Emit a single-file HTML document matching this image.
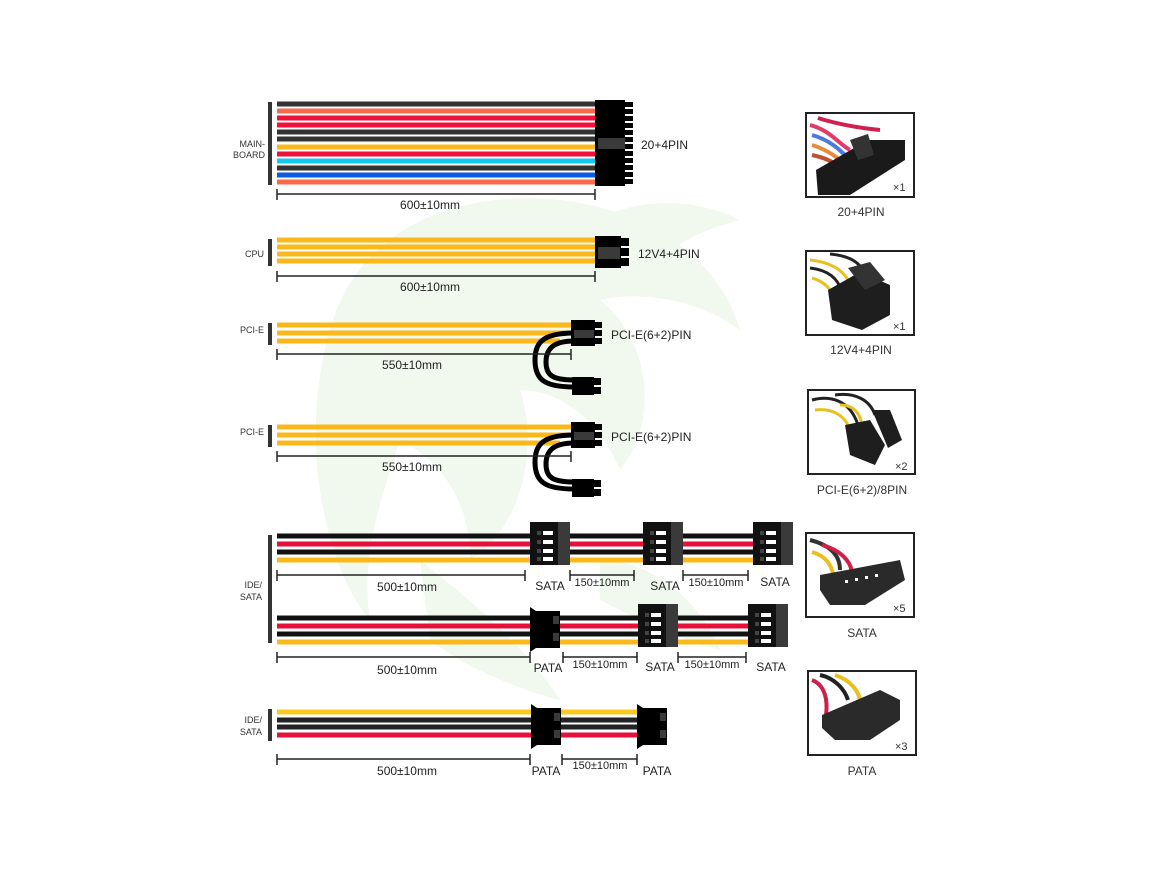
<!DOCTYPE html>
<html><head><meta charset="utf-8"><style>
html,body{margin:0;padding:0;background:#fff;}
svg{display:block;font-family:"Liberation Sans",Arial,sans-serif;}
</style></head><body>
<svg width="1150" height="876" viewBox="0 0 1150 876" xmlns="http://www.w3.org/2000/svg">
<rect width="1150" height="876" fill="#fff"/>
<!-- watermark -->
<g fill="#f1f8ed">
<path d="M330 330 C360 220 470 190 560 200 C650 210 720 260 740 330 C700 300 640 290 600 300 C650 340 660 420 620 470 C600 420 560 390 520 390 C540 450 520 530 470 560 C470 500 440 460 400 440 C380 500 360 560 370 620 C320 560 300 430 330 330 Z"/>
<path d="M420 560 C470 600 520 640 560 700 C520 690 470 670 430 640 Z"/>
<path d="M600 560 C650 560 700 600 720 650 C680 640 640 620 600 600 Z"/>
<path d="M560 250 C600 200 680 190 740 220 C700 230 660 250 640 280 Z"/>
</g>
<!-- MAINBOARD -->
<rect x="268" y="102" width="4" height="83" fill="#333"/>
<text x="265" y="147" font-size="9" text-anchor="end" fill="#333">MAIN-</text>
<text x="265" y="158" font-size="9" text-anchor="end" fill="#333">BOARD</text>
<g stroke-width="5">
<line x1="277" y1="104" x2="595" y2="104" stroke="#333"/>
<line x1="277" y1="111" x2="595" y2="111" stroke="#f96a4a"/>
<line x1="277" y1="118" x2="595" y2="118" stroke="#f0103a"/>
<line x1="277" y1="125" x2="595" y2="125" stroke="#f0103a"/>
<line x1="277" y1="132" x2="595" y2="132" stroke="#333"/>
<line x1="277" y1="139" x2="595" y2="139" stroke="#333"/>
<line x1="277" y1="147" x2="595" y2="147" stroke="#fbb81a"/>
<line x1="277" y1="154" x2="595" y2="154" stroke="#f0103a"/>
<line x1="277" y1="161" x2="595" y2="161" stroke="#12c8ec"/>
<line x1="277" y1="168" x2="595" y2="168" stroke="#333"/>
<line x1="277" y1="175" x2="595" y2="175" stroke="#0a5ce0"/>
<line x1="277" y1="182" x2="595" y2="182" stroke="#f96a4a"/>
</g>
<rect x="595" y="100" width="30" height="86" fill="#000"/>
<g fill="#000">
<rect x="624" y="102" width="9" height="5"/><rect x="624" y="109" width="9" height="5"/><rect x="624" y="116" width="9" height="5"/><rect x="624" y="123" width="9" height="5"/><rect x="624" y="130" width="9" height="5"/><rect x="624" y="137" width="9" height="5"/><rect x="624" y="144" width="9" height="5"/><rect x="624" y="151" width="9" height="5"/><rect x="624" y="158" width="9" height="5"/><rect x="624" y="165" width="9" height="5"/><rect x="624" y="172" width="9" height="5"/><rect x="624" y="179" width="9" height="5"/>
</g>
<rect x="598" y="138" width="27" height="11" fill="#3a3a3a"/>
<text x="641" y="149" font-size="12" fill="#222">20+4PIN</text>
<g stroke="#222" stroke-width="1.5"><line x1="277" y1="194" x2="595" y2="194"/><line x1="277" y1="189" x2="277" y2="200"/><line x1="595" y1="189" x2="595" y2="200"/></g>
<text x="430" y="209" font-size="12" text-anchor="middle" fill="#222">600±10mm</text>

<!-- CPU -->
<rect x="268" y="239" width="4" height="27" fill="#333"/>
<text x="264" y="257" font-size="9" text-anchor="end" fill="#333">CPU</text>
<g stroke="#fbb81a" stroke-width="5">
<line x1="277" y1="240" x2="595" y2="240"/><line x1="277" y1="247" x2="595" y2="247"/><line x1="277" y1="254" x2="595" y2="254"/><line x1="277" y1="261" x2="595" y2="261"/>
</g>
<rect x="595" y="236" width="26" height="32" fill="#000"/>
<rect x="620" y="238" width="9" height="8" fill="#000"/><rect x="620" y="248" width="9" height="8" fill="#000"/><rect x="620" y="258" width="9" height="8" fill="#000"/>
<rect x="598" y="247" width="22" height="12" fill="#3a3a3a"/>
<text x="638" y="258" font-size="12" fill="#222">12V4+4PIN</text>
<g stroke="#222" stroke-width="1.5"><line x1="277" y1="276" x2="595" y2="276"/><line x1="277" y1="271" x2="277" y2="282"/><line x1="595" y1="271" x2="595" y2="282"/></g>
<text x="430" y="291" font-size="12" text-anchor="middle" fill="#222">600±10mm</text>

<!-- PCI-E 1 -->
<g id="pcie">
<rect x="268" y="323" width="4" height="22" fill="#333"/>
<text x="264" y="333" font-size="9" text-anchor="end" fill="#333">PCI-E</text>
<g stroke="#fbb81a" stroke-width="5">
<line x1="277" y1="325" x2="572" y2="325"/><line x1="277" y1="333" x2="572" y2="333"/><line x1="277" y1="341" x2="560" y2="341"/>
</g>
<path d="M574 333 C540 333 535 345 535 360 C535 380 545 387 574 387" fill="none" stroke="#000" stroke-width="5"/>
<path d="M574 341 C552 341 546 350 546 362 C546 375 552 380 574 380" fill="none" stroke="#000" stroke-width="5"/>
<rect x="571" y="320" width="24" height="26" fill="#000"/>
<rect x="594" y="322" width="8" height="6" fill="#000"/><rect x="594" y="330" width="8" height="6" fill="#000"/><rect x="594" y="338" width="8" height="6" fill="#000"/>
<rect x="574" y="330" width="20" height="8" fill="#3a3a3a"/>
<rect x="572" y="377" width="22" height="18" fill="#000"/>
<rect x="593" y="378" width="8" height="7" fill="#000"/><rect x="593" y="387" width="8" height="7" fill="#000"/>
<text x="611" y="339" font-size="12" fill="#222">PCI-E(6+2)PIN</text>
<g stroke="#222" stroke-width="1.5"><line x1="277" y1="354" x2="571" y2="354"/><line x1="277" y1="349" x2="277" y2="360"/><line x1="571" y1="349" x2="571" y2="360"/></g>
<text x="412" y="369" font-size="12" text-anchor="middle" fill="#222">550±10mm</text>
</g>
<use href="#pcie" transform="translate(0,102)"/>

<!-- IDE/SATA rows 1-2 -->
<rect x="268" y="535" width="4" height="108" fill="#333"/>
<text x="262" y="588" font-size="9" text-anchor="end" fill="#333">IDE/</text>
<text x="262" y="600" font-size="9" text-anchor="end" fill="#333">SATA</text>
<g stroke-width="5">
<line x1="277" y1="536" x2="755" y2="536" stroke="#111"/>
<line x1="277" y1="544" x2="755" y2="544" stroke="#e8103a"/>
<line x1="277" y1="552" x2="755" y2="552" stroke="#111"/>
<line x1="277" y1="560" x2="755" y2="560" stroke="#fbb81a"/>
<line x1="277" y1="618" x2="750" y2="618" stroke="#111"/>
<line x1="277" y1="626" x2="750" y2="626" stroke="#e8103a"/>
<line x1="277" y1="634" x2="750" y2="634" stroke="#111"/>
<line x1="277" y1="642" x2="750" y2="642" stroke="#fbb81a"/>
</g>
<g id="sata">
<rect x="530" y="522" width="40" height="43" fill="#111"/>
<rect x="558" y="522" width="12" height="43" fill="#3a3a3a"/>
<rect x="537" y="531" width="4" height="4" fill="#444"/><rect x="543" y="531" width="10" height="4" fill="#fff"/>
<rect x="537" y="540" width="4" height="4" fill="#444"/><rect x="543" y="540" width="10" height="4" fill="#fff"/>
<rect x="537" y="549" width="4" height="4" fill="#444"/><rect x="543" y="549" width="10" height="4" fill="#fff"/>
<rect x="537" y="557" width="4" height="4" fill="#444"/><rect x="543" y="557" width="10" height="4" fill="#fff"/>
</g>
<use href="#sata" transform="translate(113,0)"/>
<use href="#sata" transform="translate(223,0)"/>
<use href="#sata" transform="translate(108,82)"/>
<use href="#sata" transform="translate(218,82)"/>
<g id="pata">
<path d="M530 607 L536 611 L560 611 L560 648 L536 648 L530 652 Z" fill="#000"/>
<rect x="553" y="616" width="6" height="8" fill="#3a3a3a"/><rect x="553" y="633" width="6" height="8" fill="#3a3a3a"/>
</g>
<g font-size="12" fill="#222" text-anchor="middle">
<text x="550" y="590">SATA</text><text x="665" y="590">SATA</text><text x="775" y="586">SATA</text>
<text x="548" y="672">PATA</text><text x="660" y="671">SATA</text><text x="771" y="671">SATA</text>
</g>
<g stroke="#222" stroke-width="1.5">
<line x1="277" y1="575" x2="525" y2="575"/><line x1="277" y1="570" x2="277" y2="581"/><line x1="525" y1="570" x2="525" y2="581"/>
<line x1="570" y1="575" x2="634" y2="575"/><line x1="570" y1="570" x2="570" y2="581"/><line x1="634" y1="570" x2="634" y2="581"/>
<line x1="683" y1="575" x2="748" y2="575"/><line x1="683" y1="570" x2="683" y2="581"/><line x1="748" y1="570" x2="748" y2="581"/>
<line x1="277" y1="657" x2="530" y2="657"/><line x1="277" y1="652" x2="277" y2="663"/><line x1="530" y1="652" x2="530" y2="663"/>
<line x1="563" y1="657" x2="637" y2="657"/><line x1="563" y1="652" x2="563" y2="663"/><line x1="637" y1="652" x2="637" y2="663"/>
<line x1="678" y1="657" x2="746" y2="657"/><line x1="678" y1="652" x2="678" y2="663"/><line x1="746" y1="652" x2="746" y2="663"/>
</g>
<g font-size="12" fill="#222" text-anchor="middle">
<text x="407" y="591">500±10mm</text>
<text x="407" y="674">500±10mm</text>
</g>
<g font-size="11" fill="#222" text-anchor="middle">
<text x="602" y="586">150±10mm</text><text x="716" y="586">150±10mm</text>
<text x="600" y="668">150±10mm</text><text x="712" y="668">150±10mm</text>
</g>

<!-- row 3 -->
<rect x="268" y="709" width="4" height="32" fill="#333"/>
<text x="262" y="723" font-size="9" text-anchor="end" fill="#333">IDE/</text>
<text x="262" y="735" font-size="9" text-anchor="end" fill="#333">SATA</text>
<g stroke-width="5">
<line x1="277" y1="712" x2="640" y2="712" stroke="#fbc820"/>
<line x1="277" y1="720" x2="640" y2="720" stroke="#222"/>
<line x1="277" y1="727" x2="640" y2="727" stroke="#222"/>
<line x1="277" y1="735" x2="640" y2="735" stroke="#e8103a"/>
</g>
<use href="#pata" transform="translate(1,97)"/>
<use href="#pata" transform="translate(107,97)"/>
<g stroke="#222" stroke-width="1.5">
<line x1="277" y1="759" x2="530" y2="759"/><line x1="277" y1="754" x2="277" y2="765"/><line x1="530" y1="754" x2="530" y2="765"/>
<line x1="562" y1="759" x2="637" y2="759"/><line x1="562" y1="754" x2="562" y2="765"/><line x1="637" y1="754" x2="637" y2="765"/>
</g>
<text x="407" y="775" font-size="12" text-anchor="middle" fill="#222">500±10mm</text>
<text x="600" y="769" font-size="11" text-anchor="middle" fill="#222">150±10mm</text>
<text x="546" y="775" font-size="12" text-anchor="middle" fill="#222">PATA</text>
<text x="657" y="775" font-size="12" text-anchor="middle" fill="#222">PATA</text>

<!-- thumbnails -->
<g fill="#fff" stroke="#222" stroke-width="2">
<rect x="806" y="113" width="108" height="84"/>
<rect x="806" y="251" width="108" height="84"/>
<rect x="808" y="390" width="107" height="84"/>
<rect x="806" y="533" width="108" height="84"/>
<rect x="808" y="671" width="108" height="84"/>
</g>
<!-- thumb1 -->
<g stroke-width="4" fill="none">
<path d="M810 125 C830 130 840 145 850 150" stroke="#e23a6a"/>
<path d="M812 135 C830 140 840 150 848 158" stroke="#4a7ae0"/>
<path d="M812 145 C828 150 838 158 846 165" stroke="#e88a3a"/>
<path d="M818 118 C840 125 860 128 880 130" stroke="#d02050"/>
<path d="M812 155 C826 158 834 162 840 168" stroke="#c05030"/>
</g>
<path d="M816 170 L868 140 L905 140 L905 160 L850 195 L818 195 Z" fill="#1a1a1a"/>
<path d="M850 140 L868 134 L874 155 L858 160 Z" fill="#333"/>
<text x="893" y="191" font-size="11" fill="#333">×1</text>
<!-- thumb2 -->
<g stroke-width="3" fill="none">
<path d="M810 260 C830 262 845 270 850 285" stroke="#e8c020"/>
<path d="M810 268 C828 270 838 278 842 292" stroke="#222"/>
<path d="M812 278 C826 282 832 290 834 300" stroke="#e8c020"/>
<path d="M830 254 C850 256 860 262 866 275" stroke="#222"/>
</g>
<path d="M828 290 L860 272 L890 285 L890 315 L862 330 L832 320 Z" fill="#1e1e1e"/>
<path d="M848 268 L870 262 L885 280 L865 290 Z" fill="#333"/>
<text x="893" y="330" font-size="11" fill="#333">×1</text>
<!-- thumb3 -->
<g stroke-width="3" fill="none">
<path d="M812 400 C830 395 850 400 858 425" stroke="#222"/>
<path d="M815 410 C832 408 845 415 850 430" stroke="#e8c020"/>
<path d="M835 395 C855 392 870 400 875 415" stroke="#222"/>
<path d="M840 405 C855 405 862 415 862 430" stroke="#e8c020"/>
</g>
<path d="M845 425 L870 420 L885 445 L875 465 L850 455 Z" fill="#1e1e1e"/>
<path d="M872 410 L890 410 L902 440 L888 448 Z" fill="#1e1e1e"/>
<text x="895" y="470" font-size="11" fill="#333">×2</text>
<!-- thumb4 -->
<g stroke-width="4" fill="none">
<path d="M810 540 C830 545 840 555 840 570" stroke="#333"/>
<path d="M812 552 C826 556 832 565 834 578" stroke="#e8c020"/>
<path d="M822 545 C840 550 850 560 852 572" stroke="#d0204a"/>
</g>
<path d="M820 575 L900 560 L905 580 L865 605 L830 605 L820 590 Z" fill="#2a2a2a"/>
<g fill="#fff"><rect x="845" y="580" width="3" height="3"/><rect x="855" y="578" width="3" height="3"/><rect x="865" y="576" width="3" height="3"/><rect x="875" y="574" width="3" height="3"/></g>
<text x="893" y="612" font-size="11" fill="#333">×5</text>
<!-- thumb5 -->
<g stroke-width="4" fill="none">
<path d="M812 680 C825 685 828 700 826 715" stroke="#d0204a"/>
<path d="M820 675 C835 678 845 690 848 700" stroke="#222"/>
<path d="M835 675 C850 680 858 690 860 700" stroke="#e8c020"/>
</g>
<path d="M822 715 L880 690 L900 700 L900 720 L870 740 L835 740 L822 728 Z" fill="#2a2a2a"/>
<text x="895" y="750" font-size="11" fill="#333">×3</text>
<g font-size="12" fill="#333" text-anchor="middle">
<text x="861" y="216">20+4PIN</text>
<text x="861" y="354">12V4+4PIN</text>
<text x="862" y="494">PCI-E(6+2)/8PIN</text>
<text x="862" y="637">SATA</text>
<text x="862" y="775">PATA</text>
</g>
</svg>
</body></html>
